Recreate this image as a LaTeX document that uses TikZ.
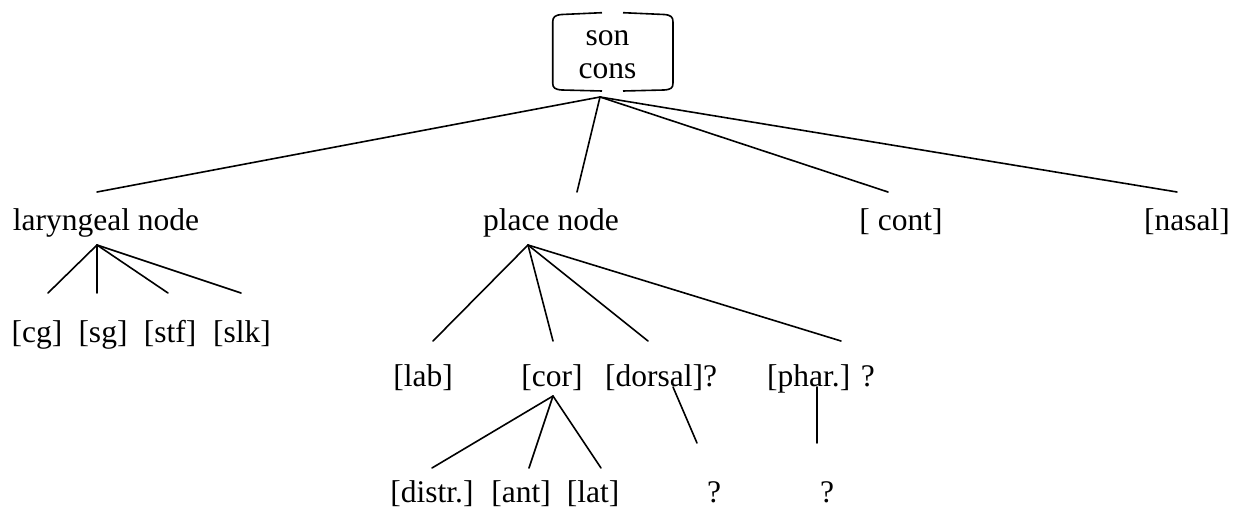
\documentclass[tikz,border=0pt]{standalone}
\usepackage{fontspec}
\setmainfont{Liberation Serif}
\begin{document}
\begin{tikzpicture}[x=1pt,y=-1pt,
  lbl/.style={font=\fontsize{31.5}{33}\selectfont, inner sep=0pt, anchor=base},
  edge/.style={line width=1.6pt, line cap=round},
  boxline/.style={line width=1.6pt}]
\useasboundingbox (0,0) rectangle (1237,508);

% root box (two facing brackets)
\node[lbl, anchor=center, align=center] (root) at (607.5,55) {son\\cons};
\draw[boxline] (602,12.7) -- (562,14.5) .. controls (555,15) and (552.7,17) .. (552.7,22)
  -- (552.7,83) .. controls (552.7,88) and (555,89.5) .. (562,90) -- (602,91);
\draw[boxline] (623,12.7) -- (664,14.5) .. controls (671,15) and (673,17) .. (673,22)
  -- (673,83) .. controls (673,88) and (671,89.5) .. (664,90) -- (623,91);

% text nodes
\node[lbl] (lar)   at (106,230) {laryngeal node};
\node[lbl] (place) at (551,230) {place node};
\node[lbl] (cont)  at (901,230) {[ cont]};
\node[lbl] (nasal) at (1187,230) {[nasal]};

\node[lbl] (cg)  at (37,342)  {[cg]};
\node[lbl] (sg)  at (103,342) {[sg]};
\node[lbl] (stf) at (170,342) {[stf]};
\node[lbl] (slk) at (242,342) {[slk]};

\node[lbl] (lab)    at (423,386) {[lab]};
\node[lbl] (cor)    at (552,386) {[cor]};
\node[lbl] (dorsal) at (661,386) {[dorsal]?};
\node[lbl] (phar)   at (821,386) {[phar.] ?};

\node[lbl] (distr) at (432,502) {[distr.]};
\node[lbl] (ant)   at (521,502) {[ant]};
\node[lbl] (lat)   at (593,502) {[lat]};
\node[lbl] (q1)    at (714,502) {?};
\node[lbl] (q2)    at (827,502) {?};

% connector end points
\coordinate (root-out) at (600,97);
\coordinate (lar-in) at (97,192);
\coordinate (place-in) at (577,192);
\coordinate (cont-in) at (888,192);
\coordinate (nasal-in) at (1177,192);

\coordinate (lar-out) at (97,245);
\coordinate (cg-in) at (48,293);
\coordinate (sg-in) at (97,293);
\coordinate (stf-in) at (168,293);
\coordinate (slk-in) at (241,293);

\coordinate (place-out) at (528,245);
\coordinate (lab-in) at (433,341);
\coordinate (cor-in) at (553,341);
\coordinate (dorsal-in) at (648,341);
\coordinate (phar-in) at (841,341);

\coordinate (cor-out) at (553,396);
\coordinate (distr-in) at (432,468);
\coordinate (ant-in) at (529,468);
\coordinate (lat-in) at (601,468);

\coordinate (dorsal-out) at (673,387);
\coordinate (q1-in) at (697,443);
\coordinate (phar-out) at (817,387);
\coordinate (q2-in) at (817,443);

% connectors
\draw[edge] (root-out) -- (lar-in);
\draw[edge] (root-out) -- (place-in);
\draw[edge] (root-out) -- (cont-in);
\draw[edge] (root-out) -- (nasal-in);

\draw[edge] (lar-out) -- (cg-in);
\draw[edge] (lar-out) -- (sg-in);
\draw[edge] (lar-out) -- (stf-in);
\draw[edge] (lar-out) -- (slk-in);

\draw[edge] (place-out) -- (lab-in);
\draw[edge] (place-out) -- (cor-in);
\draw[edge] (place-out) -- (dorsal-in);
\draw[edge] (place-out) -- (phar-in);

\draw[edge] (cor-out) -- (distr-in);
\draw[edge] (cor-out) -- (ant-in);
\draw[edge] (cor-out) -- (lat-in);

\draw[edge] (dorsal-out) -- (q1-in);
\draw[edge] (phar-out) -- (q2-in);
\end{tikzpicture}
\end{document}
